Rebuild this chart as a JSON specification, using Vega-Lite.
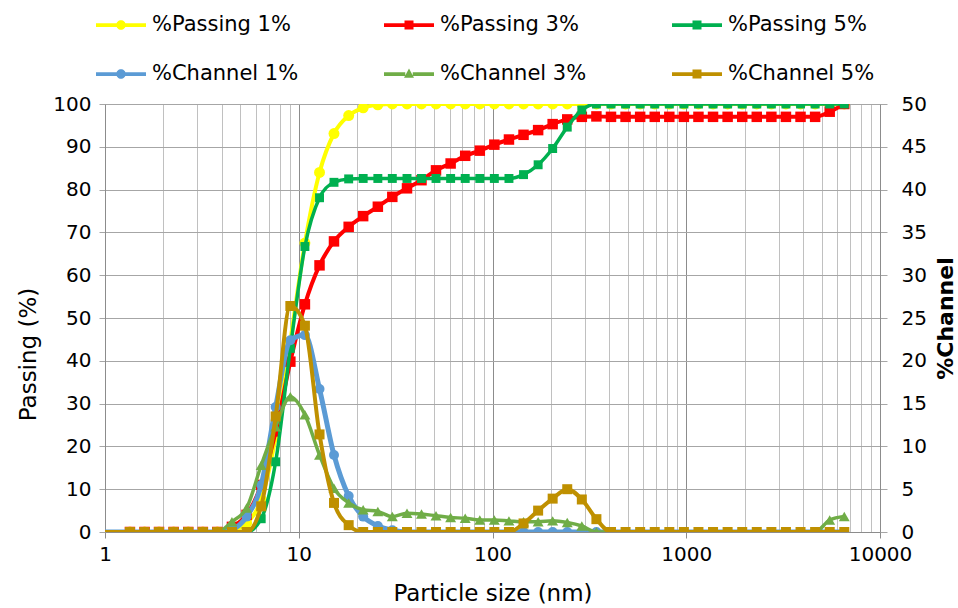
{
  "$schema": "https://vega.github.io/schema/vega-lite/v6.json",
  "width": 775,
  "height": 428,
  "autosize": {"type": "none"},
  "padding": {"left": 105, "top": 104, "right": 78, "bottom": 76},
  "background": "white",
  "config": {"font": "DejaVu Sans", "view": {"stroke": null}},
  "data": {"values": [
    {"s": 0.8, "p1": 0, "p3": 0, "p5": 0, "c1": 0, "c3": 0, "c5": 0},
    {"s": 1.345, "p1": 0, "p3": 0, "p5": 0, "c1": 0, "c3": 0, "c5": 0},
    {"s": 1.6, "p1": 0, "p3": 0, "p5": 0, "c1": 0, "c3": 0, "c5": 0},
    {"s": 1.9, "p1": 0, "p3": 0, "p5": 0, "c1": 0, "c3": 0, "c5": 0},
    {"s": 2.26, "p1": 0, "p3": 0, "p5": 0, "c1": 0, "c3": 0, "c5": 0},
    {"s": 2.69, "p1": 0, "p3": 0, "p5": 0, "c1": 0, "c3": 0, "c5": 0},
    {"s": 3.2, "p1": 0, "p3": 0, "p5": 0, "c1": 0, "c3": 0, "c5": 0},
    {"s": 3.8, "p1": 0, "p3": 0, "p5": 0, "c1": 0, "c3": 0, "c5": 0},
    {"s": 4.52, "p1": 0.3, "p3": 1.2, "p5": 0, "c1": 0.3, "c3": 1.2, "c5": 0},
    {"s": 5.38, "p1": 2.1, "p3": 4.0, "p5": 0, "c1": 1.8, "c3": 2.8, "c5": 0},
    {"s": 6.4, "p1": 7.6, "p3": 11.0, "p5": 3.1, "c1": 5.5, "c3": 7.8, "c5": 3.0},
    {"s": 7.6, "p1": 22.2, "p3": 23.5, "p5": 16.4, "c1": 14.6, "c3": 12.3, "c5": 13.5},
    {"s": 9.05, "p1": 44.6, "p3": 39.8, "p5": 42.9, "c1": 22.4, "c3": 15.8, "c5": 26.4},
    {"s": 10.76, "p1": 67.5, "p3": 53.2, "p5": 66.7, "c1": 23.0, "c3": 13.7, "c5": 24.1},
    {"s": 12.8, "p1": 84.0, "p3": 62.3, "p5": 78.1, "c1": 16.7, "c3": 9.0, "c5": 11.4},
    {"s": 15.2, "p1": 93.1, "p3": 67.9, "p5": 81.7, "c1": 9.0, "c3": 5.1, "c5": 3.4},
    {"s": 18.1, "p1": 97.3, "p3": 71.3, "p5": 82.5, "c1": 4.2, "c3": 3.4, "c5": 0.8},
    {"s": 21.5, "p1": 99.1, "p3": 73.8, "p5": 82.6, "c1": 1.8, "c3": 2.6, "c5": 0},
    {"s": 25.6, "p1": 99.8, "p3": 76.0, "p5": 82.6, "c1": 0.7, "c3": 2.4, "c5": 0},
    {"s": 30.4, "p1": 100, "p3": 78.3, "p5": 82.6, "c1": 0.2, "c3": 1.8, "c5": 0},
    {"s": 36.2, "p1": 100, "p3": 80.3, "p5": 82.6, "c1": 0, "c3": 2.2, "c5": 0},
    {"s": 43.0, "p1": 100, "p3": 82.2, "p5": 82.6, "c1": 0, "c3": 2.1, "c5": 0},
    {"s": 51.1, "p1": 100, "p3": 84.5, "p5": 82.6, "c1": 0, "c3": 1.9, "c5": 0},
    {"s": 60.8, "p1": 100, "p3": 86.1, "p5": 82.6, "c1": 0, "c3": 1.7, "c5": 0},
    {"s": 72.3, "p1": 100, "p3": 87.9, "p5": 82.6, "c1": 0, "c3": 1.6, "c5": 0},
    {"s": 86.0, "p1": 100, "p3": 89.1, "p5": 82.6, "c1": 0, "c3": 1.4, "c5": 0},
    {"s": 102.2, "p1": 100, "p3": 90.5, "p5": 82.6, "c1": 0, "c3": 1.4, "c5": 0},
    {"s": 121.6, "p1": 100, "p3": 91.7, "p5": 82.6, "c1": 0, "c3": 1.3, "c5": 0},
    {"s": 144.6, "p1": 100, "p3": 92.8, "p5": 83.5, "c1": 0, "c3": 1.2, "c5": 1.0},
    {"s": 172.0, "p1": 100, "p3": 93.9, "p5": 85.8, "c1": 0, "c3": 1.2, "c5": 2.5},
    {"s": 204.4, "p1": 100, "p3": 95.3, "p5": 89.6, "c1": 0, "c3": 1.3, "c5": 3.9},
    {"s": 243.1, "p1": 100, "p3": 96.4, "p5": 94.6, "c1": 0, "c3": 1.1, "c5": 5.0},
    {"s": 289.1, "p1": 100, "p3": 97.0, "p5": 98.6, "c1": 0, "c3": 0.7, "c5": 3.8},
    {"s": 343.8, "p1": 100, "p3": 97.1, "p5": 100, "c1": 0, "c3": 0, "c5": 1.5},
    {"s": 408.9, "p1": 100, "p3": 97.0, "p5": 100, "c1": 0, "c3": 0, "c5": 0},
    {"s": 486.2, "p1": 100, "p3": 97.0, "p5": 100, "c1": 0, "c3": 0, "c5": 0},
    {"s": 578.2, "p1": 100, "p3": 97.0, "p5": 100, "c1": 0, "c3": 0, "c5": 0},
    {"s": 687.6, "p1": 100, "p3": 97.0, "p5": 100, "c1": 0, "c3": 0, "c5": 0},
    {"s": 817.7, "p1": 100, "p3": 97.0, "p5": 100, "c1": 0, "c3": 0, "c5": 0},
    {"s": 972.4, "p1": 100, "p3": 97.0, "p5": 100, "c1": 0, "c3": 0, "c5": 0},
    {"s": 1156, "p1": 100, "p3": 97.0, "p5": 100, "c1": 0, "c3": 0, "c5": 0},
    {"s": 1375, "p1": 100, "p3": 97.0, "p5": 100, "c1": 0, "c3": 0, "c5": 0},
    {"s": 1635, "p1": 100, "p3": 97.0, "p5": 100, "c1": 0, "c3": 0, "c5": 0},
    {"s": 1945, "p1": 100, "p3": 97.0, "p5": 100, "c1": 0, "c3": 0, "c5": 0},
    {"s": 2312, "p1": 100, "p3": 97.0, "p5": 100, "c1": 0, "c3": 0, "c5": 0},
    {"s": 2750, "p1": 100, "p3": 97.0, "p5": 100, "c1": 0, "c3": 0, "c5": 0},
    {"s": 3270, "p1": 100, "p3": 97.0, "p5": 100, "c1": 0, "c3": 0, "c5": 0},
    {"s": 3889, "p1": 100, "p3": 97.0, "p5": 100, "c1": 0, "c3": 0, "c5": 0},
    {"s": 4625, "p1": 100, "p3": 97.0, "p5": 100, "c1": 0, "c3": 0, "c5": 0},
    {"s": 5500, "p1": 100, "p3": 98.2, "p5": 100, "c1": 0, "c3": 1.4, "c5": 0},
    {"s": 6540, "p1": 100, "p3": 100, "p5": 100, "c1": 0, "c3": 1.8, "c5": 0}
  ]},
  "transform": [{"fold": ["p1", "p3", "p5", "c1", "c3", "c5"], "as": ["series", "v"]}],
  "layer": [
    {
      "encoding": {
        "x": {"field": "s", "type": "quantitative",
          "scale": {"type": "log", "domain": [1, 10000], "nice": false},
          "axis": {
            "values": [1,2,3,4,5,6,7,8,9,10,20,30,40,50,60,70,80,90,100,200,300,400,500,600,700,800,900,1000,2000,3000,4000,5000,6000,7000,8000,9000,10000],
            "title": "Particle size (nm)",
            "grid": true,
            "gridColor": {"condition": {"test": "indexof([1,10,100,1000,10000], datum.value) >= 0", "value": "#8c8c8c"}, "value": "#c0c0c0"},
            "gridWidth": 1,
            "tickColor": {"condition": {"test": "indexof([1,10,100,1000,10000], datum.value) >= 0", "value": "#8c8c8c"}, "value": "transparent"},
            "labelExpr": "indexof([1,10,100,1000,10000], datum.value) >= 0 ? format(datum.value, 'd') : ''",
            "labelOverlap": false,
            "labelFlush": false,
            "domainColor": "#8c8c8c",
            "tickSize": 6,
            "labelPadding": 6,
            "labelFontSize": 20,
            "labelColor": "#000000",
            "titleFontSize": 23,
            "titleFontWeight": "normal",
            "titleColor": "#000000",
            "titlePadding": 18
          }
        },
        "y": {"field": "v", "type": "quantitative",
          "scale": {"domain": [0, 100], "nice": false, "zero": true},
          "axis": {
            "title": "Passing (%)",
            "values": [0,10,20,30,40,50,60,70,80,90,100],
            "grid": true,
            "gridColor": "#a6a6a6",
            "domainColor": "#8c8c8c",
            "tickColor": "#a6a6a6",
            "tickSize": 6,
            "labelPadding": 8,
            "labelFontSize": 20,
            "labelColor": "#000000",
            "titleFontSize": 23,
            "titleFontWeight": "normal",
            "titleColor": "#000000",
            "titlePadding": 12,
            "titleY": 250
          }
        },
        "color": {"field": "series", "type": "nominal",
          "scale": {"domain": ["p1", "p3", "p5", "c1", "c3", "c5"], "range": ["#FFFF00", "#FF0000", "#00B050", "#5B9BD5", "#70AD47", "#BF9000"]},
          "legend": {
            "orient": "none", "legendX": -9, "legendY": -104,
            "direction": "horizontal", "columns": 3, "title": null, "padding": 0,
            "columnPadding": 85, "rowPadding": 14,
            "labelFont": "DejaVu Sans", "labelFontSize": 21, "labelColor": "#000000", "labelOffset": 6, "labelLimit": 300,
            "symbolSize": 2500,
            "labelExpr": "datum.value === 'p1' ? '%Passing 1%' : datum.value === 'p3' ? '%Passing 3%' : datum.value === 'p5' ? '%Passing 5%' : datum.value === 'c1' ? '%Channel 1%' : datum.value === 'c3' ? '%Channel 3%' : '%Channel 5%'",
            "encode": {"symbols": {"update": {
              "shape": {"signal": "datum.value === 'c3' ? 'M-1,-0.075H-0.15V0.075H-1Z M0.15,-0.075H1V0.075H0.15Z M0,-0.22L0.2,0.15L-0.2,0.15Z' : (datum.value === 'p1' || datum.value === 'c1') ? 'M-1,-0.075H-0.17V0.075H-1Z M0.17,-0.075H1V0.075H0.17Z M-0.19,0A0.19,0.19 0 1,1 0.19,0A0.19,0.19 0 1,1 -0.19,0Z' : 'M-1,-0.075H-0.17V0.075H-1Z M0.17,-0.075H1V0.075H0.17Z M-0.18,-0.18H0.18V0.18H-0.18Z'"},
              "fill": {"scale": "color", "field": "value"},
              "stroke": {"value": "transparent"},
              "strokeWidth": {"value": 0},
              "opacity": {"value": 1}
            }}}
          }
        }
      },
      "layer": [
        {"transform": [{"filter": "datum.series === 'p1'"}], "mark": {"type": "line", "strokeWidth": 4, "clip": true, "interpolate": "monotone"}},
        {"transform": [{"filter": "datum.series === 'p1'"}], "mark": {"type": "point", "shape": "circle", "filled": true, "size": 120, "opacity": 1, "clip": true}},
        {"transform": [{"filter": "datum.series === 'p3'"}], "mark": {"type": "line", "strokeWidth": 4, "clip": true, "interpolate": "monotone"}},
        {"transform": [{"filter": "datum.series === 'p3'"}], "mark": {"type": "point", "shape": "square", "filled": true, "size": 110, "opacity": 1, "clip": true}},
        {"transform": [{"filter": "datum.series === 'p5'"}], "mark": {"type": "line", "strokeWidth": 3.5, "clip": true, "interpolate": "monotone"}},
        {"transform": [{"filter": "datum.series === 'p5'"}], "mark": {"type": "point", "shape": "square", "filled": true, "size": 80, "opacity": 1, "clip": true}}
      ]
    },
    {
      "encoding": {
        "x": {"field": "s", "type": "quantitative", "scale": {"type": "log", "domain": [1, 10000], "nice": false}},
        "y": {"field": "v", "type": "quantitative",
          "scale": {"domain": [0, 50], "nice": false, "zero": true},
          "axis": {
            "orient": "right",
            "title": "%Channel",
            "values": [0,5,10,15,20,25,30,35,40,45,50],
            "grid": false,
            "domainColor": "#8c8c8c",
            "tickColor": "#a6a6a6",
            "tickSize": 7,
            "labelPadding": 14,
            "labelFontSize": 20,
            "labelColor": "#000000",
            "titleFontSize": 22,
            "titleFontWeight": "bold",
            "titleColor": "#000000",
            "titleAngle": 270,
            "titlePadding": 31
          }
        },
        "color": {"field": "series", "type": "nominal",
          "scale": {"domain": ["p1", "p3", "p5", "c1", "c3", "c5"], "range": ["#FFFF00", "#FF0000", "#00B050", "#5B9BD5", "#70AD47", "#BF9000"]}
        }
      },
      "layer": [
        {"transform": [{"filter": "datum.series === 'c1'"}], "mark": {"type": "line", "strokeWidth": 5, "clip": true, "interpolate": "monotone"}},
        {"transform": [{"filter": "datum.series === 'c1'"}], "mark": {"type": "point", "shape": "circle", "filled": true, "size": 100, "opacity": 1, "clip": true}},
        {"transform": [{"filter": "datum.series === 'c3'"}], "mark": {"type": "line", "strokeWidth": 3.5, "clip": true, "interpolate": "monotone"}},
        {"transform": [{"filter": "datum.series === 'c3'"}], "mark": {"type": "point", "shape": "triangle-up", "filled": true, "size": 120, "opacity": 1, "clip": true}},
        {"transform": [{"filter": "datum.series === 'c5'"}], "mark": {"type": "line", "strokeWidth": 4, "clip": true, "interpolate": "monotone"}},
        {"transform": [{"filter": "datum.series === 'c5'"}], "mark": {"type": "point", "shape": "square", "filled": true, "size": 100, "opacity": 1, "clip": true}}
      ]
    }
  ],
  "resolve": {"scale": {"y": "independent"}}
}
